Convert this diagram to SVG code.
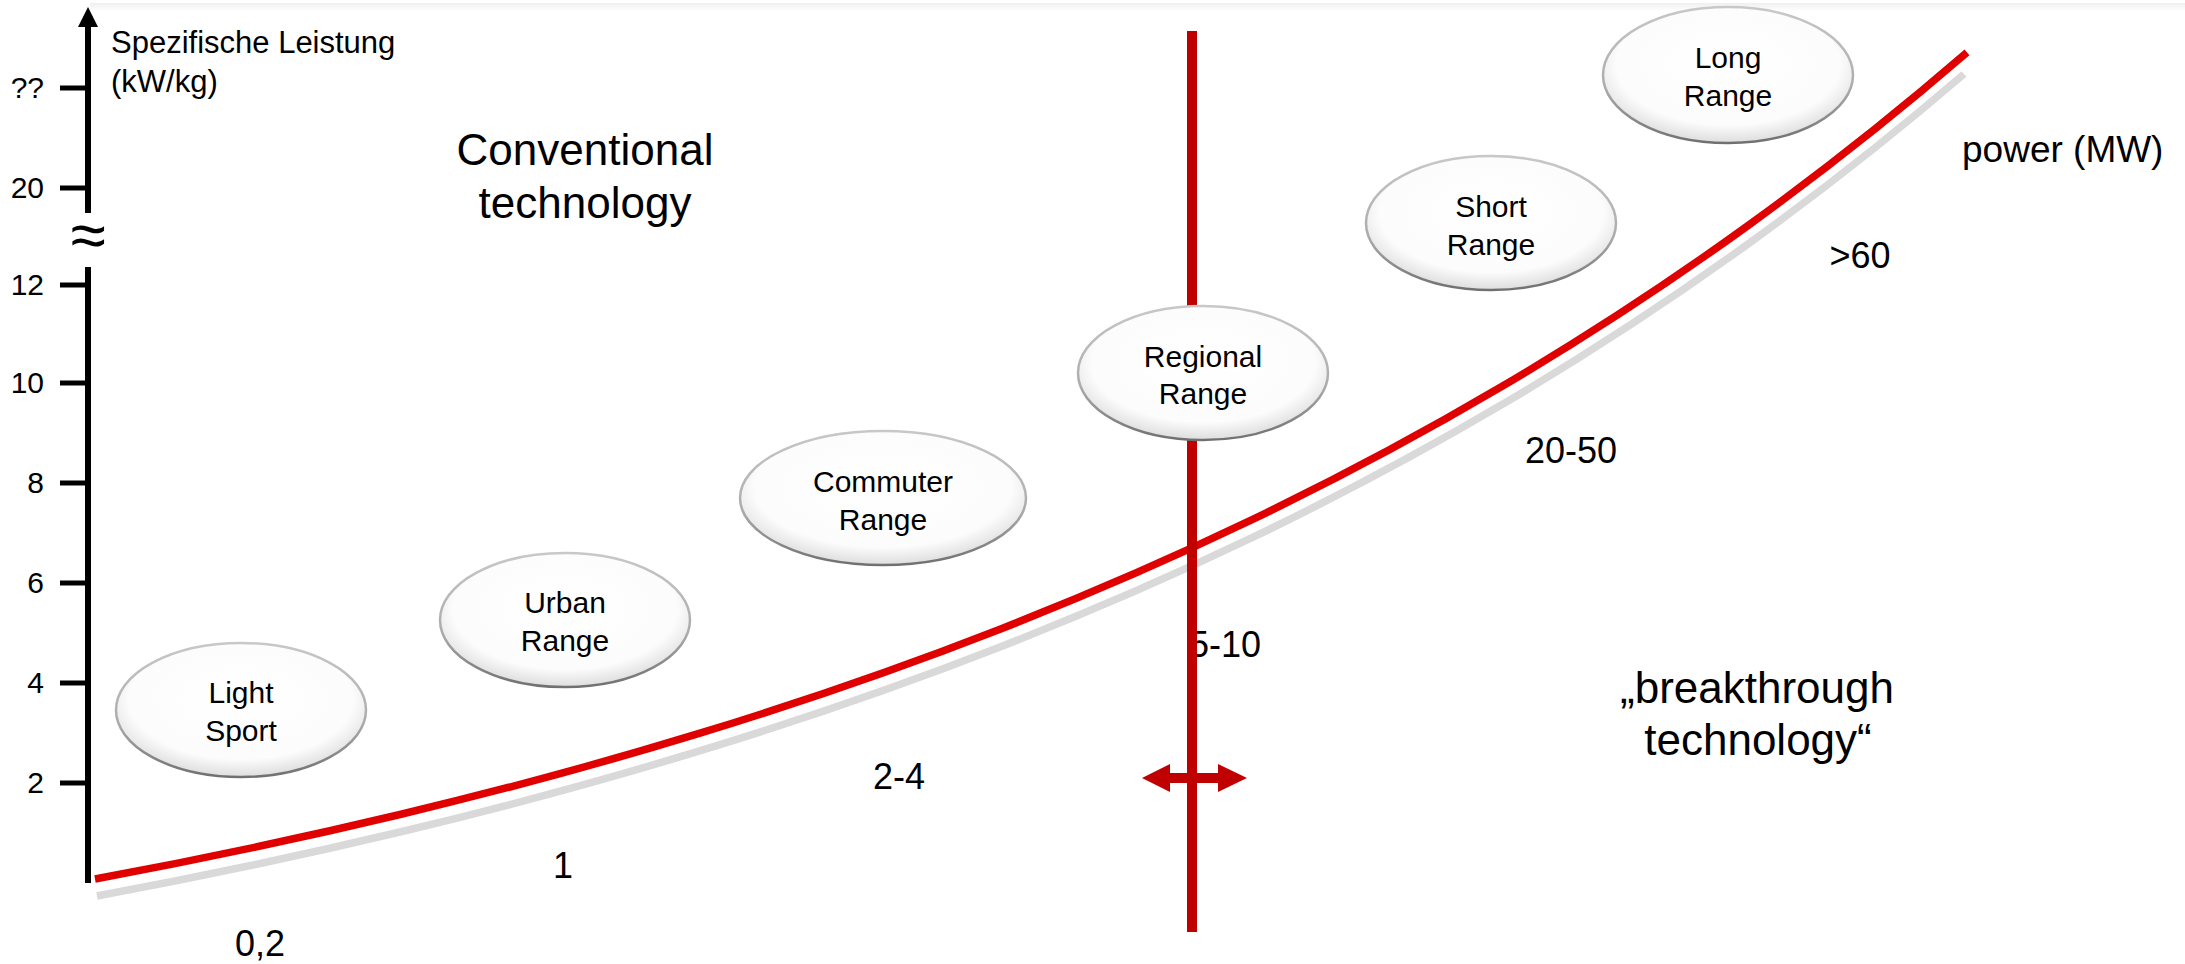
<svg xmlns="http://www.w3.org/2000/svg" width="2185" height="964" viewBox="0 0 2185 964">
<style>
  text { font-family: "Liberation Sans", Arial, sans-serif; fill: #000; }
  .tick { stroke: #000; stroke-width: 5; }
  .tl { font-size: 30px; text-anchor: end; }
  .node ellipse { fill: url(#nodeFill); stroke: url(#nodeEdge); stroke-width: 2.5; }
  .node text { font-size: 30px; text-anchor: middle; }
  .big { font-size: 44px; text-anchor: middle; }
  .xl { font-size: 36px; text-anchor: middle; }
  .curve { fill: none; stroke-width: 7.5; stroke-linecap: butt; stroke-linejoin: round; }
</style>
<defs>
  <radialGradient id="nodeFill" cx="50%" cy="42%" r="56%">
    <stop offset="0" stop-color="#ffffff"/>
    <stop offset="0.8" stop-color="#fcfcfc"/>
    <stop offset="1" stop-color="#e2e2e2"/>
  </radialGradient>
  <linearGradient id="nodeEdge" x1="0" y1="0" x2="0" y2="1">
    <stop offset="0" stop-color="#c8c8c8"/>
    <stop offset="0.6" stop-color="#ababab"/>
    <stop offset="1" stop-color="#707070"/>
  </linearGradient>
  <linearGradient id="topShade" x1="0" y1="0" x2="0" y2="1">
    <stop offset="0" stop-color="#efefef"/>
    <stop offset="1" stop-color="#ffffff"/>
  </linearGradient>
</defs>
<rect x="0" y="0" width="2185" height="964" fill="#ffffff"/>
<rect x="90" y="3" width="2095" height="8" fill="url(#topShade)"/>

<g id="y-axis">
  <line x1="88" y1="22" x2="88" y2="213" stroke="#000" stroke-width="6"/>
  <polygon points="88,7 98,27 78,27" fill="#000"/>
  <line x1="88" y1="267" x2="88" y2="883" stroke="#000" stroke-width="6"/>
  <text x="88" y="257" font-size="64" text-anchor="middle">≈</text>
  <line class="tick" x1="60" y1="88" x2="88" y2="88"/>
  <line class="tick" x1="60" y1="188" x2="88" y2="188"/>
  <line class="tick" x1="60" y1="285" x2="88" y2="285"/>
  <line class="tick" x1="60" y1="383" x2="88" y2="383"/>
  <line class="tick" x1="60" y1="483" x2="88" y2="483"/>
  <line class="tick" x1="60" y1="583" x2="88" y2="583"/>
  <line class="tick" x1="60" y1="683" x2="88" y2="683"/>
  <line class="tick" x1="60" y1="783" x2="88" y2="783"/>
  <text class="tl" x="44" y="98">??</text>
  <text class="tl" x="44" y="198">20</text>
  <text class="tl" x="44" y="295">12</text>
  <text class="tl" x="44" y="393">10</text>
  <text class="tl" x="44" y="493">8</text>
  <text class="tl" x="44" y="593">6</text>
  <text class="tl" x="44" y="693">4</text>
  <text class="tl" x="44" y="793">2</text>
  <text x="111" y="53" font-size="31">Spezifische Leistung</text>
  <text x="111" y="92" font-size="31">(kW/kg)</text>
</g>

<g id="connectors">
  <path id="curve-shadow" class="curve" stroke="#d9d9d9" transform="translate(2,17)" d="M95,879 C196.7,860.1 298.3,838.8 400,814.5 C500,790.6 600,763.8 700,733.2 C800,702.6 900,668.3 1000,629.2 C1083.3,596.6 1166.7,560.7 1250,520.7 C1333.3,480.7 1416.7,436.7 1500,387.6 C1583.3,338.5 1666.7,284.4 1750,224.1 C1822.3,171.8 1894.7,114.9 1962,57"/>
  <path id="curve" class="curve" stroke="#e00000" d="M95,879 C196.7,860.1 298.3,838.8 400,814.5 C500,790.6 600,763.8 700,733.2 C800,702.6 900,668.3 1000,629.2 C1083.3,596.6 1166.7,560.7 1250,520.7 C1333.3,480.7 1416.7,436.7 1500,387.6 C1583.3,338.5 1666.7,284.4 1750,224.1 C1822.3,171.8 1894.7,114.9 1967,52.4"/>
  <text x="1189" y="657" font-size="36">5-10</text>
  <line id="divider" x1="1192" y1="31" x2="1192" y2="932" stroke="#c00000" stroke-width="10"/>
  <polygon id="double-arrow" fill="#c00000" points="1142,778 1170,764 1170,773 1218,773 1218,764 1247,778 1218,792 1218,783 1170,783 1170,792"/>
</g>

<g id="light-sport" class="node">
  <ellipse cx="241" cy="710" rx="125" ry="67"/>
  <text x="241" y="703">Light</text>
  <text x="241" y="741">Sport</text>
</g>
<g id="urban-range" class="node">
  <ellipse cx="565" cy="620" rx="125" ry="67"/>
  <text x="565" y="613">Urban</text>
  <text x="565" y="651">Range</text>
</g>
<g id="commuter-range" class="node">
  <ellipse cx="883" cy="498" rx="143" ry="67"/>
  <text x="883" y="492">Commuter</text>
  <text x="883" y="530">Range</text>
</g>
<g id="regional-range" class="node">
  <ellipse cx="1203" cy="373" rx="125" ry="67"/>
  <text x="1203" y="367">Regional</text>
  <text x="1203" y="404">Range</text>
</g>
<g id="short-range" class="node">
  <ellipse cx="1491" cy="223" rx="125" ry="67"/>
  <text x="1491" y="217">Short</text>
  <text x="1491" y="255">Range</text>
</g>
<g id="long-range" class="node">
  <ellipse cx="1728" cy="75" rx="125" ry="68"/>
  <text x="1728" y="68">Long</text>
  <text x="1728" y="106">Range</text>
</g>

<g id="labels">
  <text class="big" x="585" y="165">Conventional</text>
  <text class="big" x="585" y="218">technology</text>
  <text class="big" x="1757" y="703">„breakthrough</text>
  <text class="big" x="1758" y="755">technology“</text>
  <text class="xl" x="260" y="956">0,2</text>
  <text class="xl" x="563" y="878">1</text>
  <text class="xl" x="899" y="789">2-4</text>
  <text class="xl" x="1571" y="463">20-50</text>
  <text class="xl" x="1860" y="268">&gt;60</text>
  <text x="1962" y="162" font-size="37">power (MW)</text>
</g>
</svg>
